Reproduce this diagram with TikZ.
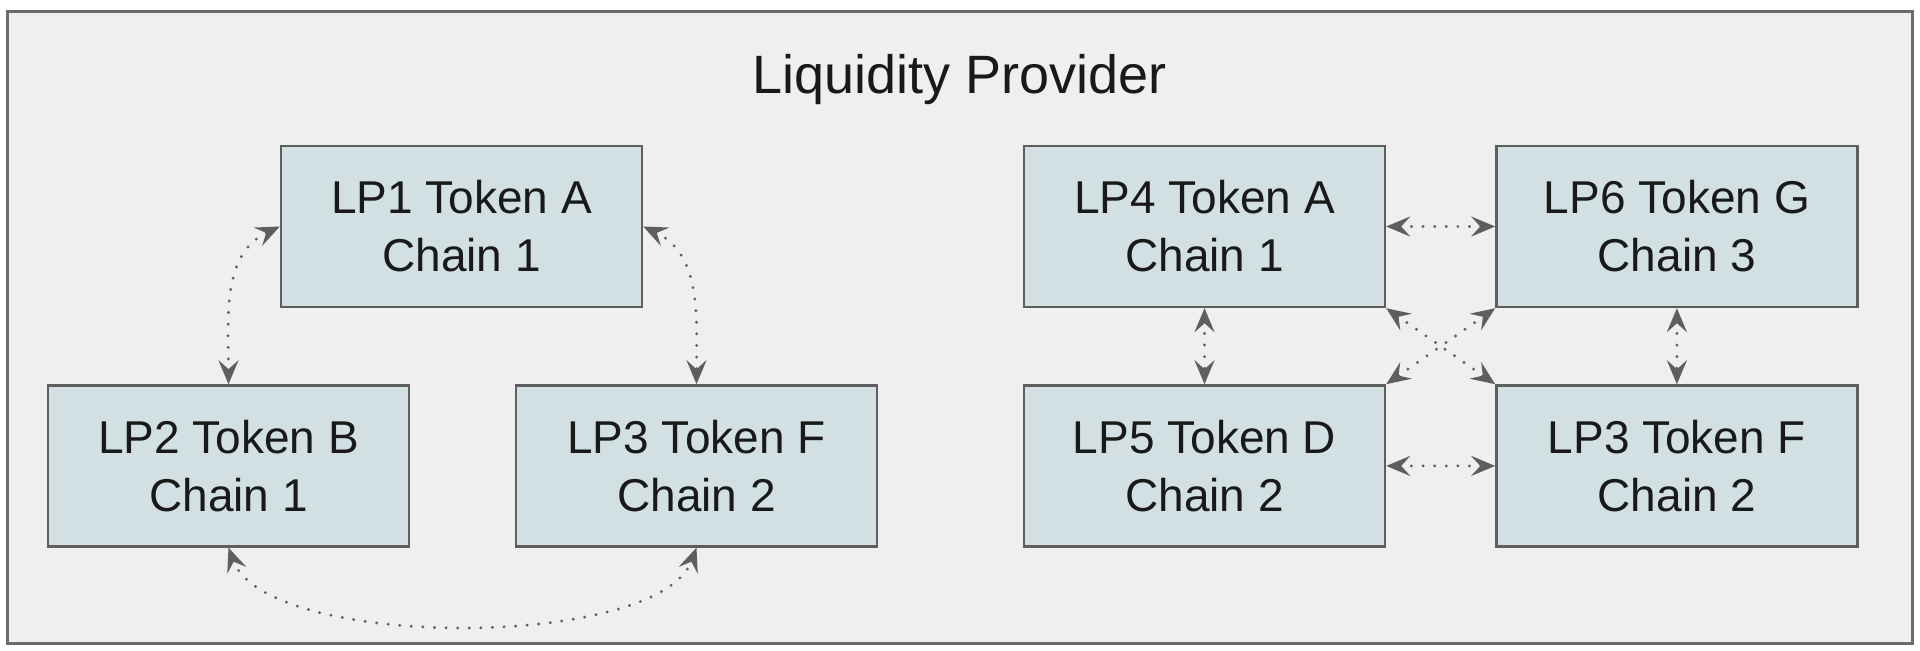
\documentclass[tikz,border=0pt]{standalone}
\usepackage{fontspec}
\setmainfont{Liberation Sans}
\usetikzlibrary{positioning, arrows.meta}
\definecolor{panelgray}{HTML}{EFEFEF}
\definecolor{panelline}{HTML}{6A6A6A}
\definecolor{boxblue}{HTML}{D2E0E4}
\definecolor{linkgray}{HTML}{5E5E5E}
\tikzset{
    x=0.5pt, y=-0.5pt, % one unit is one pixel of the sketch, y going down
    >={Stealth[length=12pt, width=10pt, inset=4.5pt]}, % open stealth heads like the sketch
    panel/.style={draw=panelline, line width=1.5pt, fill=panelgray}, % the outer frame
    lpbox/.style={draw=linkgray, line width=1.2pt, fill=boxblue, minimum width=180.5pt, minimum height=80.5pt, inner sep=0pt, align=center, font=\fontsize{23}{29}\selectfont, text=black!90}, % one pool
    link/.style={<->, draw=linkgray, line width=1.6pt, line cap=round, dash pattern=on 0pt off 5.8pt}, % dotted two-way link
}
\begin{document}
\begin{tikzpicture}
                            \useasboundingbox (0,0) rectangle (1920,650);
                            \draw[panel] (7,11) rectangle (1912,643);
                            \node[anchor=base, font=\fontsize{27}{32}\selectfont, text=black!90] (title) at (959.5,93) {Liquidity Provider};
                            % left group
                            \node[lpbox] (lp1) at (461.5,226.5) {LP1 Token A\\Chain 1};
                            \node[lpbox, below=38pt of lp1, xshift=-116.5pt] (lp2) {LP2 Token B\\Chain 1};
                            \node[lpbox, below=38pt of lp1, xshift=117.5pt] (lp3) {LP3 Token F\\Chain 2};
                            % right group
                            \node[lpbox] (lp4) at (1204.5,226.5) {LP4 Token A\\Chain 1};
                            \node[lpbox, right=54.5pt of lp4] (lp6) {LP6 Token G\\Chain 3};
                            \node[lpbox, below=38pt of lp4] (lp5) {LP5 Token D\\Chain 2};
                            \node[lpbox, below=38pt of lp6] (lp3b) {LP3 Token F\\Chain 2};
                            \draw[link] (lp2.north) to[out=90, in=205] (lp1.west);
                            \draw[link] (lp1.east) to[out=-25, in=90] (lp3.north);
                            \draw[link] (lp2.south) to[out=-70, in=-110, looseness=0.6] (lp3.south);
                            \draw[link] (lp4) -- (lp6);
                            \draw[link] (lp5) -- (lp3b);
                            \draw[link] (lp4) -- (lp5);
                            \draw[link] (lp6) -- (lp3b);
                            \draw[link] (lp4.south east) -- (lp3b.north west);
                            \draw[link] (lp6.south west) -- (lp5.north east);
                        \end{tikzpicture}
\end{document}
